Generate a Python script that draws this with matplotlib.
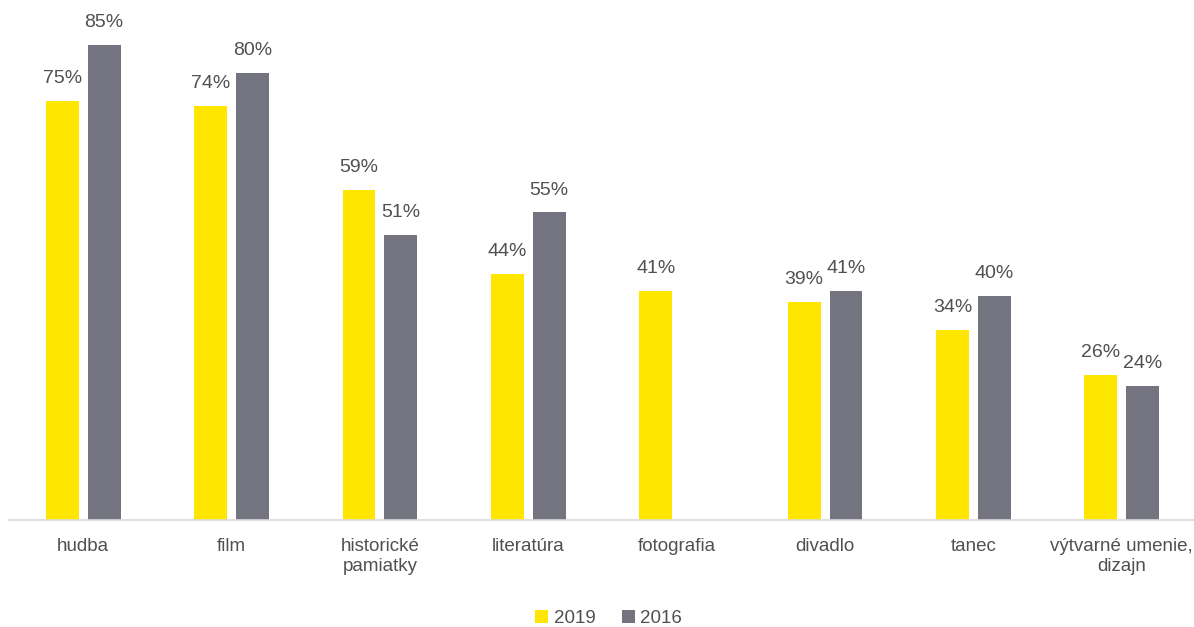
import matplotlib
matplotlib.use("Agg")
import matplotlib.pyplot as plt
import numpy as np

categories = ["hudba", "film", "historické\npamiatky", "literatúra", "fotografia",
              "divadlo", "tanec", "výtvarné umenie,\ndizajn"]
values_2019 = [75, 74, 59, 44, 41, 39, 34, 26]
values_2016 = [85, 80, 51, 55, None, 41, 40, 24]
series_names = ["2019", "2016"]
colors = ["#FFE600", "#747480"]

plt.rcParams['font.family'] = ['Liberation Sans', 'DejaVu Sans']
text_color = "#505050"
fs = 13.5

fig = plt.figure(figsize=(11.94, 6.27), dpi=100)
ax = fig.add_axes([9/1194, 107/627, (1196-9)/1194, 520/627])

x = np.arange(len(categories))
w = 0.222
off = 0.141
for vals, sign, col, name in [(values_2019, -1, colors[0], series_names[0]),
                              (values_2016, 1, colors[1], series_names[1])]:
    xs = [xi + sign*off for xi, v in zip(x, vals) if v is not None]
    vs = [v for v in vals if v is not None]
    bars = ax.bar(xs, vs, width=w, color=col, label=name)
    for b, v in zip(bars, vs):
        ax.annotate(f"{v}%", (b.get_x()+b.get_width()/2, v), xytext=(0, 10),
                    textcoords="offset points", ha="center", va="bottom",
                    fontsize=14, color=text_color)

ax.set_xlim(-0.5, len(categories)-0.5)
ax.set_ylim(0, 93)
ax.set_xticks(x)
ax.set_xticklabels(categories, fontsize=fs, color=text_color, linespacing=1.25)
ax.tick_params(axis='x', length=0, pad=13)
ax.set_yticks([])
for s in ["top", "right", "left"]:
    ax.spines[s].set_visible(False)
ax.spines["bottom"].set_color("#D9D9D9")
ax.spines["bottom"].set_linewidth(1.2)

leg = fig.legend(loc="center", bbox_to_anchor=(0.5096, 8.5/627), ncol=2, frameon=False,
                 fontsize=fs, handlelength=0.7, handleheight=0.7, handletextpad=0.3,
                 columnspacing=1.4, labelcolor=text_color)

fig.savefig("out.png", dpi=100)
